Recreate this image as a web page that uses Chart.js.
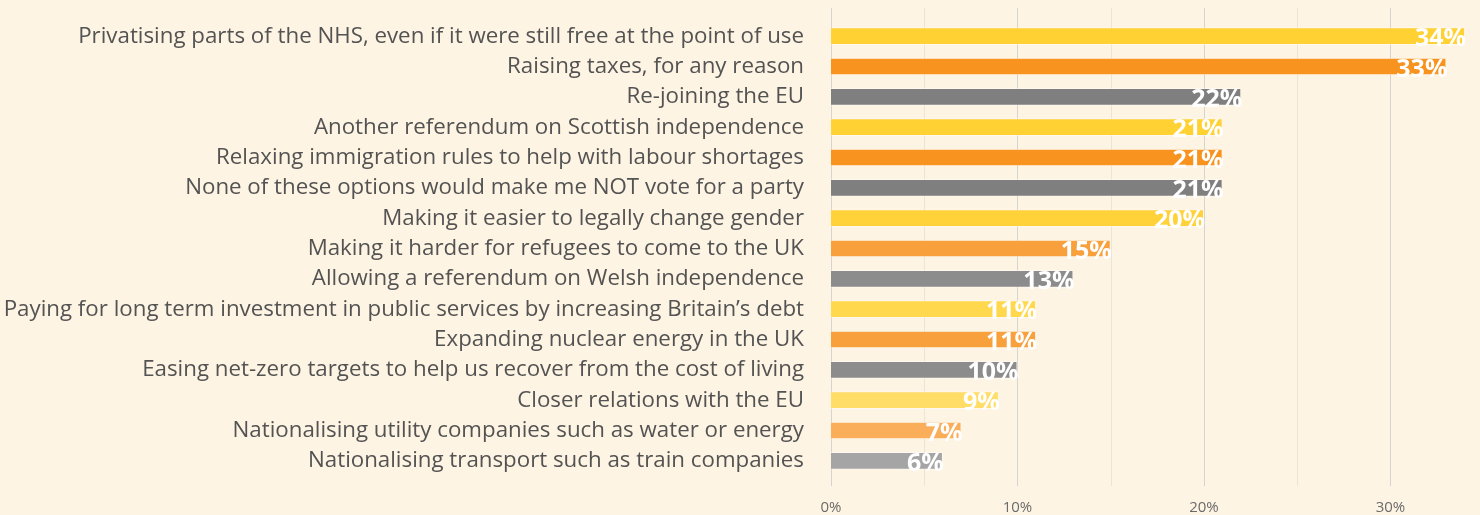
<!DOCTYPE html>
<html lang="en">
  <head>
    <meta charset="UTF-8" />
    <title>Policies that would make people NOT vote for a party</title>
    <!-- Chart.js for the bar chart -->
    <script src="https://cdn.jsdelivr.net/npm/chart.js"></script>
    <style>
      html,
      body {
        margin: 0;
        padding: 0;
        background: #fef4e3;
        overflow: hidden;
      }
      #chart {
        display: block;
      }
    </style>
  </head>
  <body>
    <canvas id="chart" width="1480" height="515"></canvas>
    <script>
      // Categories, top to bottom.
      const categories = [
        "Privatising parts of the NHS, even if it were still free at the point of use",
        "Raising taxes, for any reason",
        "Re-joining the EU",
        "Another referendum on Scottish independence",
        "Relaxing immigration rules to help with labour shortages",
        "None of these options would make me NOT vote for a party",
        "Making it easier to legally change gender",
        "Making it harder for refugees to come to the UK",
        "Allowing a referendum on Welsh independence",
        "Paying for long term investment in public services by increasing Britain\u2019s debt",
        "Expanding nuclear energy in the UK",
        "Easing net-zero targets to help us recover from the cost of living",
        "Closer relations with the EU",
        "Nationalising utility companies such as water or energy",
        "Nationalising transport such as train companies",
      ];
      // Share of respondents (%).
      const shares = [34, 33, 22, 21, 21, 21, 20, 15, 13, 11, 11, 10, 9, 7, 6];
      // Bar colours in the same order.
      const barColours = [
        "#ffd133", "#f7931e", "#7f7f7f",
        "#ffd133", "#f7931e", "#7f7f7f",
        "#ffd23a", "#f8a03b", "#8c8c8c",
        "#ffd84d", "#f8a03b", "#8c8c8c",
        "#ffdd66", "#fbae5a", "#a5a5a5",
      ];
      // x axis tick labels and grid lines.
      const xTicks = [0, 10, 20, 30];
      const gridValues = [0, 5, 10, 15, 20, 25, 30];

      const labelFont = "'Open Sans', sans-serif";

      // Grid lines run a bit past the bars at top and bottom, as in the original.
      const gridPlugin = {
        id: "fullGrid",
        beforeDatasetsDraw(chart) {
          const { ctx, chartArea, scales } = chart;
          ctx.save();
          ctx.lineWidth = 1;
          gridValues.forEach((v) => {
            const px = Math.round(scales.x.getPixelForValue(v)) + 0.5;
            ctx.strokeStyle = v % 10 === 0 ? "#d6d4d0" : "#ebe5d9";
            ctx.beginPath();
            ctx.moveTo(px, chartArea.top - 13);
            ctx.lineTo(px, chartArea.bottom + 10);
            ctx.stroke();
          });
          ctx.restore();
        },
      };

      // White value labels sitting at the end of each bar.
      const valueLabels = {
        id: "valueLabels",
        afterDatasetsDraw(chart) {
          const { ctx } = chart;
          const meta = chart.getDatasetMeta(0);
          ctx.save();
          ctx.font = "bold 25px " + labelFont;
          ctx.fillStyle = "#ffffff";
          ctx.textAlign = "right";
          ctx.textBaseline = "middle";
          meta.data.forEach((bar, i) => {
            ctx.fillText(shares[i] + "%", bar.x + 1, bar.y + 3);
          });
          ctx.restore();
        },
      };

      new Chart(document.getElementById("chart"), {
        type: "bar",
        data: {
          labels: categories,
          datasets: [
            {
              data: shares,
              backgroundColor: barColours,
              borderColor: "rgba(255, 255, 255, 0.4)",
              borderWidth: 1,
              barPercentage: 0.58,
              categoryPercentage: 1,
            },
          ],
        },
        options: {
          indexAxis: "y",
          responsive: false,
          animation: false,
          layout: { padding: { top: 21, bottom: 0, left: 0, right: 0 } },
          plugins: {
            legend: { display: false },
            tooltip: { enabled: false },
          },
          scales: {
            x: {
              min: 0,
              max: 34.8,
              grid: { display: false },
              border: { display: false },
              afterBuildTicks: (scale) => {
                scale.ticks = xTicks.map((v) => ({ value: v }));
              },
              afterFit: (scale) => {
                // Chart.js counts the tick padding twice; keep the axis tight
                scale.height = 39;
              },
              ticks: {
                callback: (v) => v + "%",
                color: "#6b6b6b",
                font: { family: labelFont, size: 15 },
                padding: 15,
                maxRotation: 0,
              },
            },
            y: {
              grid: { display: false, drawTicks: false },
              border: { display: false },
              afterFit: (scale) => {
                // fixed label column; no extra vertical padding from the labels
                scale.width = 831;
                scale.paddingTop = 0;
                scale.paddingBottom = 0;
              },
              ticks: {
                color: "#535353",
                font: { family: labelFont, size: 22.3 },
                padding: 27,
                autoSkip: false,
              },
            },
          },
        },
        plugins: [gridPlugin, valueLabels],
      });
    </script>
  </body>
</html>
